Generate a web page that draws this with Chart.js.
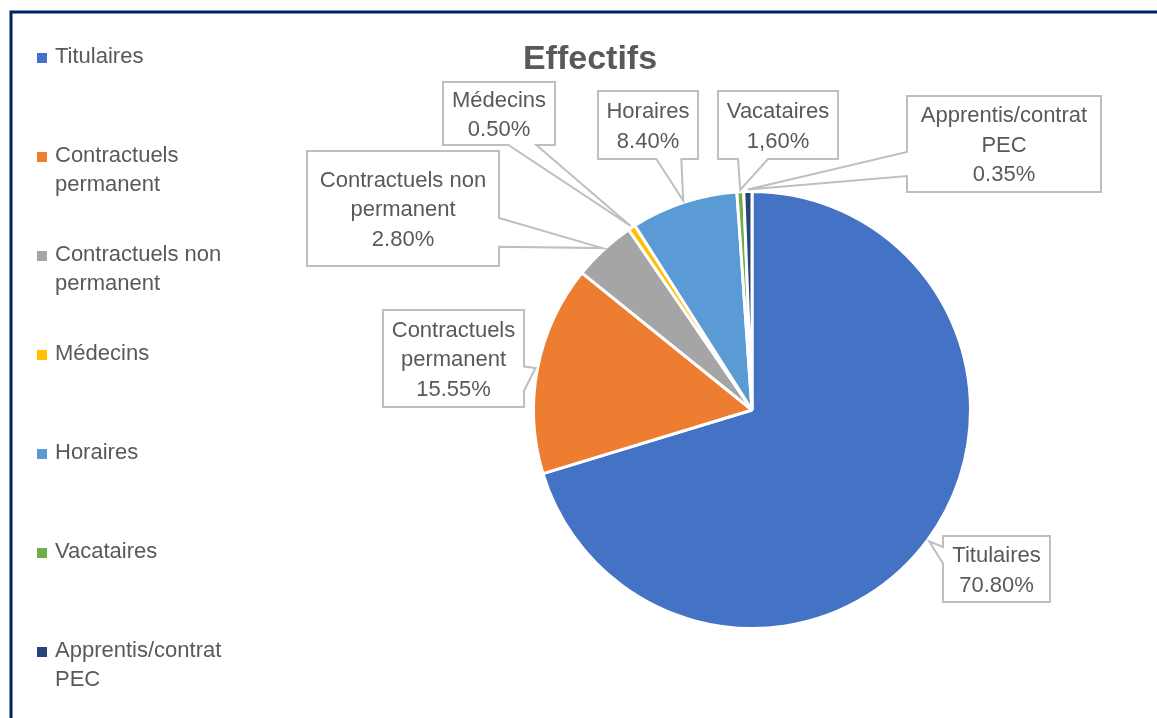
<!DOCTYPE html>
<html><head><meta charset="utf-8">
<script src="https://cdn.jsdelivr.net/npm/chart.js@4/dist/chart.umd.min.js"></script>
<style>html,body{margin:0;padding:0;background:#fff;overflow:hidden}canvas{display:block}</style>
</head><body>
<canvas id="c" width="1157" height="718"></canvas>
<script>
// ---- data ----
const chartTitle = "Effectifs";
const categories = ["Titulaires", "Contractuels permanent", "Contractuels non permanent", "Médecins", "Horaires", "Vacataires", "Apprentis/contrat PEC"];
// slice sizes as drawn in the picture (percent of the pie)
const sliceValues = [70.3, 15.5, 4.65, 0.55, 7.9, 0.5, 0.6];
// percentages as printed in the callouts
const labelValues = ["70.80%", "15.55%", "2.80%", "0.50%", "8.40%", "1,60%", "0.35%"];
const sliceColors = ["#4472C4", "#ED7D31", "#A5A5A5", "#FFC000", "#5B9BD5", "#70AD47", "#264478"];

// ---- layout (label boxes, not marks) ----
const calloutBoxes = [
  {x: 943, y: 536, w: 107, h: 66},
  {x: 383, y: 310, w: 141, h: 97},
  {x: 307, y: 151, w: 192, h: 115},
  {x: 443, y: 82,  w: 112, h: 63},
  {x: 598, y: 91,  w: 100, h: 68},
  {x: 718, y: 91,  w: 120, h: 68},
  {x: 907, y: 96,  w: 194, h: 96}
];
const FONT = "22px 'Liberation Sans', Arial, sans-serif";
const TEXT_COLOR = "#595959";
const LINE_H = 29.5;
const CAP = 15.8;

function wrap(ctx, text, maxW) {
  const words = text.split(" ");
  const lines = [];
  let cur = "";
  for (const w of words) {
    const t = cur ? cur + " " + w : w;
    if (ctx.measureText(t).width <= maxW || !cur) cur = t;
    else { lines.push(cur); cur = w; }
  }
  if (cur) lines.push(cur);
  return lines;
}

const decorPlugin = {
  id: "decor",
  afterDatasetsDraw(chart) {
    const ctx = chart.ctx;
    const meta = chart.getDatasetMeta(0);
    ctx.save();
    ctx.font = FONT;
    meta.data.forEach((arc, i) => {
      const p = arc.getProps(["x", "y", "startAngle", "endAngle", "outerRadius"], true);
      const mid = (p.startAngle + p.endAngle) / 2;
      const r = p.outerRadius + 2;
      const tip = {x: p.x + Math.cos(mid) * r, y: p.y + Math.sin(mid) * r};
      const b = calloutBoxes[i];
      const cx = b.x + b.w / 2, cy = b.y + b.h / 2;
      const dxn = (tip.x - cx) / (b.w / 2), dyn = (tip.y - cy) / (b.h / 2);
      const inside = Math.abs(dxn) <= 1 && Math.abs(dyn) <= 1;
      let side = null;
      if (!inside) {
        if (Math.abs(dxn) > Math.abs(dyn)) side = dxn > 0 ? "right" : "left";
        else side = dyn > 0 ? "bottom" : "top";
      }
      const pts = [];
      const L = b.x, R = b.x + b.w, T = b.y, B = b.y + b.h;
      const fx = tip.x > cx ? [7/12, 10/12] : [2/12, 5/12];
      const fy = tip.y > cy ? [7/12, 10/12] : [2/12, 5/12];
      pts.push([L, T]);
      if (side === "top") { pts.push([L + b.w * fx[0], T], [tip.x, tip.y], [L + b.w * fx[1], T]); }
      pts.push([R, T]);
      if (side === "right") { pts.push([R, T + b.h * fy[0]], [tip.x, tip.y], [R, T + b.h * fy[1]]); }
      pts.push([R, B]);
      if (side === "bottom") { pts.push([L + b.w * fx[1], B], [tip.x, tip.y], [L + b.w * fx[0], B]); }
      pts.push([L, B]);
      if (side === "left") { pts.push([L, T + b.h * fy[1]], [tip.x, tip.y], [L, T + b.h * fy[0]]); }
      ctx.beginPath();
      pts.forEach((q, k) => k ? ctx.lineTo(q[0], q[1]) : ctx.moveTo(q[0], q[1]));
      ctx.closePath();
      ctx.fillStyle = "#FFFFFF";
      ctx.fill();
      ctx.lineWidth = 2;
      ctx.strokeStyle = "#BFBFBF";
      ctx.lineJoin = "miter";
      ctx.stroke();
      // text
      const lines = wrap(ctx, categories[i], b.w - 8).concat([labelValues[i]]);
      ctx.fillStyle = TEXT_COLOR;
      ctx.textAlign = "center";
      ctx.textBaseline = "alphabetic";
      const top = cy - (lines.length - 1) * LINE_H / 2;
      lines.forEach((ln, k) => ctx.fillText(ln, cx, top + k * LINE_H + CAP / 2));
    });
    ctx.restore();
  },
  afterDraw(chart) {
    const ctx = chart.ctx;
    ctx.save();
    // frame (top and left visible)
    ctx.strokeStyle = "#002060";
    ctx.lineWidth = 3;
    ctx.beginPath();
    ctx.moveTo(11, 718);
    ctx.lineTo(11, 12);
    ctx.lineTo(1157, 12);
    ctx.stroke();
    // title
    ctx.fillStyle = TEXT_COLOR;
    ctx.font = "bold 34px 'Liberation Sans', Arial, sans-serif";
    ctx.textAlign = "center";
    ctx.textBaseline = "alphabetic";
    ctx.fillText(chartTitle, 590, 69);
    // legend
    ctx.font = FONT;
    ctx.textAlign = "left";
    categories.forEach((name, i) => {
      const base = 63 + i * 99;
      ctx.fillStyle = sliceColors[i];
      ctx.fillRect(37, base - 10, 10, 10);
      ctx.fillStyle = TEXT_COLOR;
      const lines = wrap(ctx, name, 190);
      lines.forEach((ln, k) => ctx.fillText(ln, 55, base + k * 29));
    });
    ctx.restore();
  }
};

new Chart(document.getElementById("c"), {
  type: "pie",
  data: {
    labels: categories,
    datasets: [{
      data: sliceValues,
      backgroundColor: sliceColors,
      borderColor: "#FFFFFF",
      borderWidth: 3
    }]
  },
  options: {
    responsive: false,
    animation: false,
    devicePixelRatio: 1,
    layout: {padding: {left: 532, right: 185, top: 190, bottom: 88}},
    plugins: {legend: {display: false}, tooltip: {enabled: false}, title: {display: false}}
  },
  plugins: [decorPlugin]
});
</script>
</body></html>
